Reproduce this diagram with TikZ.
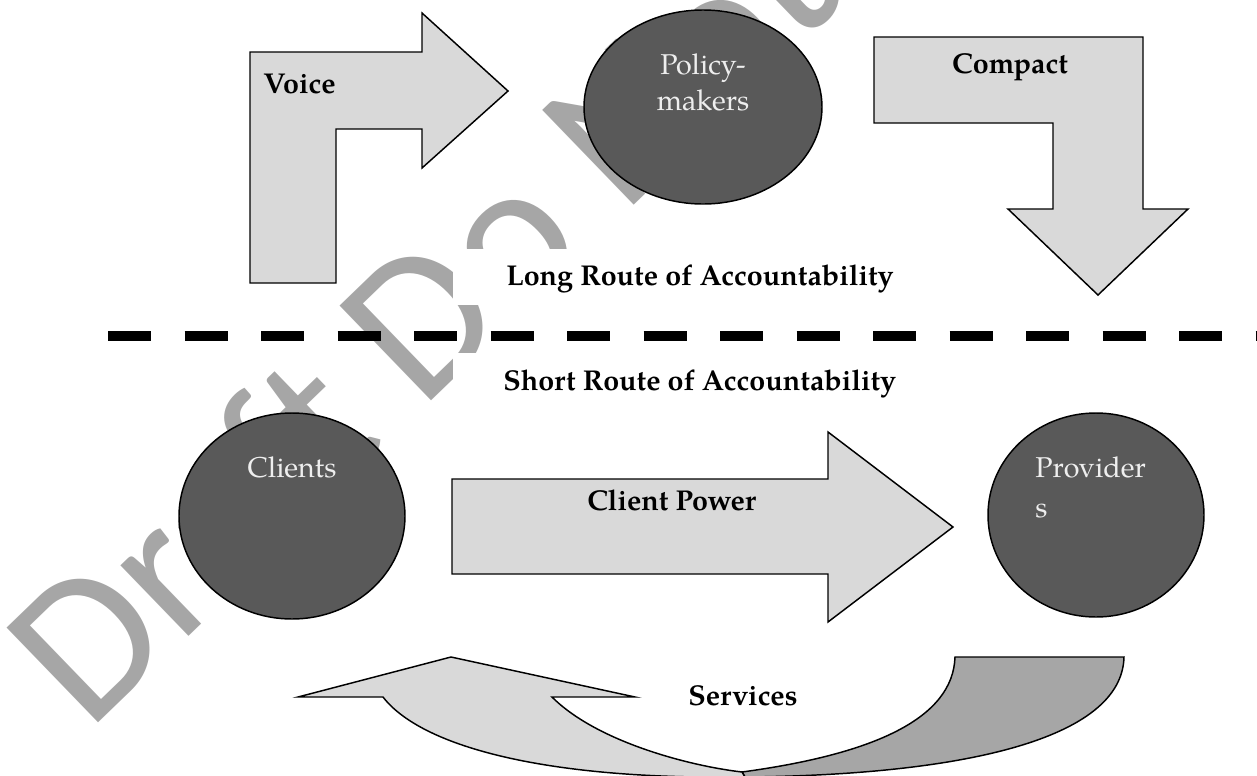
\documentclass[tikz,border=0pt]{standalone}
\usepackage{fontspec}
\setmainfont{TeX Gyre Pagella}
\newfontfamily\wmfamily{Carlito}
\usetikzlibrary{shapes.geometric}
\definecolor{shapefill}{HTML}{D9D9D9}
\definecolor{actorfill}{HTML}{595959}
\definecolor{backfill}{HTML}{A6A6A6}
\definecolor{wmgrey}{HTML}{A6A6A6}
\definecolor{actortext}{HTML}{EEEEEE}

\begin{document}
\begin{tikzpicture}[x=0.75pt,y=-0.75pt,
  blockarrow/.style={draw=black, fill=shapefill, line width=1.1pt, line join=miter},
  backpart/.style={draw=black, fill=backfill, line width=1.1pt},
  actor/.style={ellipse, draw=black, fill=actorfill, line width=1.1pt, inner sep=0pt},
  boldlabel/.style={font=\fontsize{21.5}{26}\selectfont\bfseries, text=black, inner sep=0pt},
  actorlabel/.style={font=\fontsize{21.5}{26}\selectfont, text=actortext, inner sep=0pt},
  divider/.style={line width=7.5pt, dash pattern=on 32.25pt off 25.125pt},
]
\useasboundingbox (0,0) rectangle (1257,775);
\begin{scope}
\clip (0,0) rectangle (1257,775);

% background watermark
\node[font=\wmfamily\fontsize{154}{154}\selectfont, text=wmgrey, rotate=44,
      anchor=base west, inner sep=0pt] (watermark) at (88,733) {Draft Do Not};

% white text boxes of the two route captions
\fill[white] (453,249) rectangle (940,305);
\fill[white] (453,353) rectangle (940,420);

% Voice: bent arrow up and to the right
\path[blockarrow] (250,283) -- (250,52) -- (422,52) -- (422,13) -- (508,91)
  -- (422,168) -- (422,129) -- (336,129) -- (336,283) -- cycle;

% Compact: bent arrow to the right and down
\path[blockarrow] (874,37) -- (1143,37) -- (1143,209) -- (1188,209) -- (1098,295)
  -- (1008,209) -- (1053,209) -- (1053,123) -- (874,123) -- cycle;

% Client Power: straight block arrow
\path[blockarrow] (452,479) -- (828,479) -- (828,432) -- (953,527) -- (828,622)
  -- (828,574) -- (452,574) -- cycle;

% Services: curved arrow, back part first
\path[backpart] (742,772) .. controls (875,754) and (953,718) .. (955,657)
  -- (1124,657) .. controls (1122,740) and (960,775) .. (745,777) -- cycle;
\path[blockarrow] (298,697) -- (451,657) -- (635,697) -- (552,697)
  .. controls (597,742) and (690,766) .. (742,772) -- (745,777)
  .. controls (540,780) and (420,745) .. (383,697) -- cycle;

% actors
\node[actor, minimum width=178.5pt, minimum height=145.5pt] (policy) at (703,107) {};
\node[actor, minimum width=169.5pt, minimum height=154.5pt] (clients) at (292,516) {};
\node[actor, minimum width=162pt, minimum height=153pt] (providers) at (1096,515) {};

% divider between the long and the short route
\coordinate (divL) at (108,336);
\coordinate (divR) at (1300,336);
\draw[divider] (divL) -- (divR);
\end{scope}

% labels
\node[boldlabel, anchor=base west] (voice) at (263,93) {Voice};
\node[actorlabel, anchor=base] (policyA) at (703,74) {Policy-};
\node[actorlabel, anchor=base] (policyB) at (703,110) {makers};
\node[boldlabel, anchor=base] (compact) at (1010,73) {Compact};
\node[boldlabel, anchor=base west] (longroute) at (506,285) {Long Route of Accountability};
\node[boldlabel, anchor=base west] (shortroute) at (503,390) {Short Route of Accountability};
\node[actorlabel, anchor=base] (clientslabel) at (292,477) {Clients};
\node[boldlabel, anchor=base west] (power) at (587,510) {Client Power};
\node[actorlabel, anchor=base west] (providersA) at (1035,477) {Provider};
\node[actorlabel, anchor=base west] (providersB) at (1035,517) {s};
\node[boldlabel, anchor=base west] (services) at (688,705) {Services};
\end{tikzpicture}
\end{document}
